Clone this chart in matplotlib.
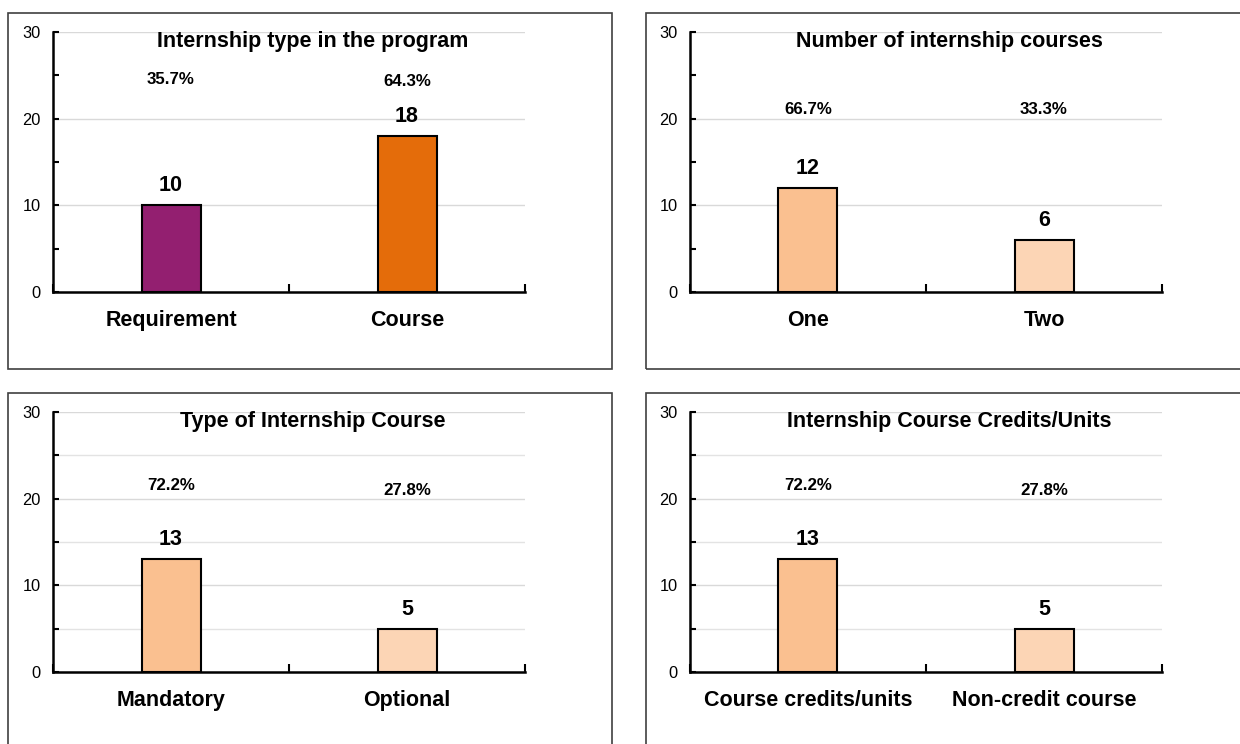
import matplotlib.pyplot as plt
from matplotlib.patches import Rectangle

plt.rcParams['font.family'] = ['Liberation Sans', 'DejaVu Sans']

# Survey counts for each question
type_labels = ['Requirement', 'Course']
type_counts = [10, 18]

number_labels = ['One', 'Two']
number_counts = [12, 6]

course_labels = ['Mandatory', 'Optional']
course_counts = [13, 5]

credit_labels = ['Course credits/units', 'Non-credit course']
credit_counts = [13, 5]

titles = ['Internship type in the program', 'Number of internship courses',
          'Type of Internship Course', 'Internship Course Credits/Units']

W, H = 1240, 744
fig = plt.figure(figsize=(W / 100, H / 100), dpi=100)


def box(x0, y0, x1, y1):
    # pixel box (top-left origin) -> figure fraction [left, bottom, width, height]
    return [x0 / W, 1 - y1 / H, (x1 - x0) / W, (y1 - y0) / H]


# panel layout: frame box, axes box, colours, height of the percent labels
panels = [
    dict(frame=(8, 13, 612, 369), axes=(53, 32, 525, 292),
         labels=type_labels, counts=type_counts,
         colors=['#931F70', '#E46C0A'], pct_y=[24.5, 24.3], minor_grid=False),
    dict(frame=(646, 13, 1250, 369), axes=(690, 32, 1162, 292),
         labels=number_labels, counts=number_counts,
         colors=['#FAC090', '#FCD5B5'], pct_y=[21.0, 21.0], minor_grid=False),
    dict(frame=(8, 393, 612, 760), axes=(53, 412, 525, 672),
         labels=course_labels, counts=course_counts,
         colors=['#FAC090', '#FCD5B5'], pct_y=[21.5, 20.9], minor_grid=True),
    dict(frame=(646, 393, 1250, 760), axes=(690, 412, 1162, 672),
         labels=credit_labels, counts=credit_counts,
         colors=['#FAC090', '#FCD5B5'], pct_y=[21.5, 20.9], minor_grid=True),
]

for p, title in zip(panels, titles):
    fig.patches.append(Rectangle(box(*p['frame'])[:2], *box(*p['frame'])[2:],
                                 transform=fig.transFigure, fill=False,
                                 edgecolor='#404040', linewidth=1.2, clip_on=False))

    ax = fig.add_axes(box(*p['axes']))
    x = range(len(p['labels']))
    total = sum(p['counts'])

    ax.bar(x, p['counts'], width=0.25, color=p['colors'], edgecolor='black',
           linewidth=1.5, zorder=3)

    for i, v in enumerate(p['counts']):
        ax.annotate(str(v), (i, v), xytext=(0, 14), textcoords='offset points',
                    ha='center', va='center', fontsize=15.5, fontweight='bold')
        ax.text(i, p['pct_y'][i], f'{v / total * 100:.1f}%', ha='center',
                va='center', fontsize=12.2, fontweight='bold')

    ax.text(0.55, 0.965, title, transform=ax.transAxes, ha='center', va='center',
            fontsize=15.5, fontweight='bold')

    ax.set_xlim(-0.5, 1.5)
    ax.set_ylim(0, 30)
    ax.set_yticks([0, 10, 20, 30])
    ax.set_yticks([5, 15, 25], minor=True)
    ax.set_xticks(list(x))
    ax.set_xticklabels(p['labels'], fontsize=15.5, fontweight='bold')
    ax.set_xticks([-0.5, 0.5, 1.5], minor=True)

    ax.tick_params(axis='y', which='both', direction='in', length=4, width=1.5,
                   labelsize=11.8, pad=9)
    ax.tick_params(axis='x', which='major', length=0, pad=13)
    ax.tick_params(axis='x', which='minor', direction='in', length=6, width=1.5)

    ax.grid(axis='y', which='major', color='#D9D9D9', linewidth=1, zorder=0)
    if p['minor_grid']:
        ax.grid(axis='y', which='minor', color='#E3E3E3', linewidth=1, zorder=0)

    for side in ['top', 'right']:
        ax.spines[side].set_visible(False)
    for side in ['left', 'bottom']:
        ax.spines[side].set_linewidth(1.8)
        ax.spines[side].set_zorder(4)

fig.savefig('out.png', dpi=100)
